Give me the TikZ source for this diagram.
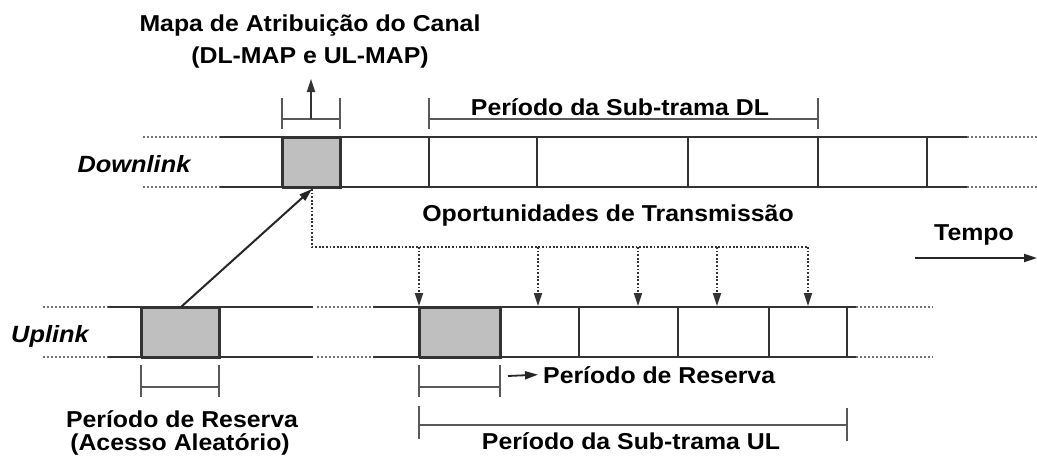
\documentclass[tikz,border=0pt]{standalone}
\usepackage{fontspec}
\newfontfamily\lab{Liberation Sans}[FakeStretch=1.08]
\usetikzlibrary{arrows.meta}
\begin{document}
\begin{tikzpicture}[x=1pt,y=-1pt,
  band/.style={line width=2pt, draw=black!80},
  ext/.style={line width=1.5pt, draw=black!55, dash pattern=on 2pt off 2pt},
  greybox/.style={draw=black!80, line width=2pt, fill=black!25, minimum height=50pt, inner sep=0pt, anchor=north west},
  brk/.style={line width=1.8pt, draw=black!65},
  lbl/.style={font=\lab\bfseries\fontsize{23}{26}\selectfont, inner sep=0pt, anchor=base},
  conn/.style={line width=1.8pt, draw=black!80, dash pattern=on 1.8pt off 1.8pt},
  arrowtip/.style={-{Triangle[length=13pt,width=8pt]}},
]
\useasboundingbox (0,0) rectangle (1037,461);
% ---------------- Downlink band
\node[greybox, minimum width=58pt] (dlmap) at (282,137) {};
\draw[band] (220,137) -- (967,137) (220,187) -- (967,187);
\draw[ext] (143,137) -- (220,137) (143,187) -- (220,187)
           (967,137) -- (1037,137) (967,187) -- (1037,187);
\foreach \x in {282,340,429,537,688,818,927} \draw[band] (\x,137) -- (\x,187);
% ---------------- Uplink band
\node[greybox, minimum width=78pt] (ulres) at (141,307) {};
\node[greybox, minimum width=81pt] (ulc) at (419,307) {};
\draw[band] (108,307) -- (313,307) (108,357) -- (313,357)
            (373,307) -- (856,307) (373,357) -- (856,357);
\draw[ext] (43,307) -- (108,307) (43,357) -- (108,357)
           (317,307) -- (373,307) (317,357) -- (373,357)
           (856,307) -- (933,307) (856,357) -- (933,357);
\foreach \x in {141,219,419,500,579,678,769,847} \draw[band] (\x,307) -- (\x,357);
% ---------------- brackets
\draw[brk] (282,98) -- (282,129) (340,98) -- (340,129) (282,119) -- (340,119);
\draw[brk] (429,98) -- (429,129) (818,98) -- (818,129) (429,119) -- (818,119);
\draw[brk] (141,365) -- (141,397) (219,365) -- (219,397) (141,387) -- (219,387);
\draw[brk] (419,365) -- (419,397) (500,365) -- (500,397) (419,387) -- (500,387);
\draw[brk] (419,406) -- (419,439) (847,408) -- (847,441) (419,425) -- (847,425);
% ---------------- labels
\node[lbl] (maptitle) at (310,31) {Mapa de Atribuição do Canal};
\node[lbl] (mapsub) at (310,63) {(DL-MAP e UL-MAP)};
\node[lbl] (dlper) at (620,115) {Período da Sub-trama DL};
\node[lbl, font=\lab\bfseries\itshape\fontsize{23.5}{26}\selectfont] (dl) at (134,172) {Downlink};
\node[lbl] (oport) at (608,221) {Oportunidades de Transmissão};
\node[lbl] (tempo) at (974,240) {Tempo};
\node[lbl, font=\lab\bfseries\itshape\fontsize{23.5}{26}\selectfont] (ul) at (50,342) {Uplink};
\node[lbl] (resl1) at (182,427) {Período de Reserva};
\node[lbl] (resl2) at (180,450) {(Acesso Aleatório)};
\node[lbl, anchor=base west] (resr) at (543,383) {Período de Reserva};
\node[lbl] (ulper) at (631,449) {Período da Sub-trama UL};
% ---------------- arrows
\coordinate (mapmid) at (311,119);
\coordinate (maptip) at (311,79);
\draw[line width=1.8pt, draw=black!80, arrowtip] (mapmid) -- (maptip);
\draw[line width=2pt, draw=black!85, arrowtip] (ulres.north) -- (dlmap.south);
\coordinate (tA) at (915,258);
\coordinate (tB) at (1037,258);
\draw[line width=2pt, draw=black!85, arrowtip] (tA) -- (tB);
\coordinate (rA) at (508,376);
\draw[line width=1.8pt, draw=black!85, arrowtip] (rA) -- ([xshift=-5pt]resr.west);
% dotted distribution of transmission opportunities
\coordinate (busR) at (808,247);
\draw[conn] (dlmap.south) |- (busR);
\foreach \x in {419,538,638,717,808} {
  \draw[conn, arrowtip] (\x,247) -- (\x,306);
}
\end{tikzpicture}
\end{document}
